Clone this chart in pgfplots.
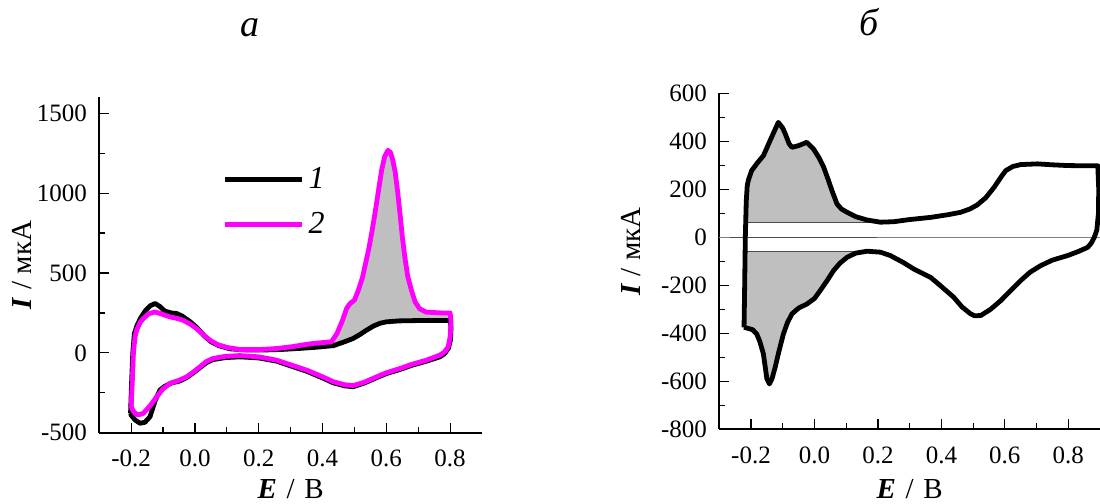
\documentclass[border=0pt]{standalone}
\usepackage{pgfplots}
\pgfplotsset{compat=1.18}
\usepackage{fontspec}
\setmainfont{Liberation Serif}
\definecolor{mag}{RGB}{255,0,255}
\begin{document}
\fontsize{12.5}{15}\selectfont
\begin{tikzpicture}
\pgfplotsset{
  cvstyle/.style={
    scale only axis, axis x line*=bottom, axis y line*=left,
    axis line style={line width=0.9pt,-},
    tick align=inside, major tick length=5pt, minor tick length=3pt,
    every tick/.style={black, line width=0.6pt},
    xmin=-0.3, xmax=0.9, enlargelimits=false,
    xtick={-0.2,0,0.2,0.4,0.6,0.8}, xticklabels={-0.2,0.0,0.2,0.4,0.6,0.8},
    minor x tick num=1, minor y tick num=1,
    tick label style={font=\fontsize{12.5}{15}\selectfont, inner sep=0pt},
    xticklabel style={anchor=north, yshift=-8.6pt},
    yticklabel style={anchor=east, xshift=-6pt},
    label style={font=\fontsize{14.5}{17}\selectfont},
    xlabel={\textbf{\textit{E}}\,\,/\,\,В}, ylabel={\textbf{\textit{I}} / мкА},
    title style={font=\fontsize{19}{22}\selectfont, anchor=base, yshift=0pt},
    clip=false,
  }
}
% ---------------- panel a ----------------
\begin{axis}[cvstyle, at={(49.65pt,35.65pt)}, anchor=south west,
  width=191.35pt, height=167.7pt, ymin=-500, ymax=1600,
  ytick={-500,0,500,1000,1500}, yticklabels={-500,0,500,1000,1500},
  xlabel style={at={(axis description cs:0.5,-0.195)}, anchor=base},
  ylabel style={at={(axis description cs:-0.202,0.5)}, anchor=center},
  title={\textit{а}}, title style={at={(axis description cs:0.394,1.145)}, anchor=base, yshift=0pt},
  legend style={at={(axis description cs:0.322,0.687)}, anchor=west, draw=none, fill=none,
    font=\fontsize{16}{18}\selectfont, row sep=6pt, inner sep=0pt},
  legend cell align=left,
  legend image code/.code={\draw[#1] (0pt,0pt) -- (38.5pt,0pt);},
]
\addplot[fill=gray!50, draw=none, forget plot] coordinates {
(0.428,69)(0.445,120)(0.462,200)(0.476,280)(0.486,308)(0.500,330)(0.512,390)(0.525,470)
(0.535,560)(0.545,650)(0.555,760)(0.565,880)(0.575,1010)(0.585,1140)(0.595,1230)(0.605,1268)
(0.613,1255)(0.620,1210)(0.628,1130)(0.636,1000)(0.643,870)(0.650,730)(0.658,600)(0.667,480)
(0.679,390)(0.690,320)(0.705,275)(0.725,255)(0.770,250)(0.800,250)
(0.800,204)(0.750,204)(0.695,204)(0.640,200)(0.600,194)(0.580,185)(0.560,168)(0.538,142)
(0.520,118)(0.496,90)(0.470,70)(0.434,45)} -- cycle;
\addplot[black, line width=2.4pt, line join=round] coordinates {
(-0.202,-380)(-0.199,-200)(-0.195,0)(-0.190,120)(-0.182,170)(-0.170,220)(-0.155,265)(-0.140,295)
(-0.125,309)(-0.110,290)(-0.095,262)(-0.075,250)(-0.057,246)(-0.040,230)(-0.015,195)(0.005,160)
(0.030,105)(0.050,70)(0.075,45)(0.110,25)(0.160,18)(0.220,18)(0.280,22)(0.330,28)(0.380,35)
(0.434,45)(0.470,70)(0.496,90)(0.520,118)(0.538,142)(0.560,168)(0.580,185)(0.600,194)(0.640,200)
(0.695,202)(0.750,202)(0.800,202)
(0.803,160)(0.801,80)(0.795,30)(0.783,-5)(0.768,-25)(0.726,-52)(0.680,-78)(0.643,-104)(0.600,-130)
(0.570,-155)(0.530,-190)(0.496,-212)(0.470,-207)(0.434,-188)(0.400,-157)(0.350,-115)(0.300,-82)
(0.256,-52)(0.200,-32)(0.141,-25)(0.095,-30)(0.057,-42)(0.037,-60)(0.016,-92)(-0.005,-125)
(-0.026,-155)(-0.050,-178)(-0.073,-188)(-0.095,-210)(-0.110,-233)(-0.125,-300)(-0.141,-400)
(-0.157,-435)(-0.172,-441)(-0.188,-420)(-0.200,-390)(-0.202,-380)};
\addlegendentry{\textit{1}}
\addplot[mag, line width=2.4pt, line join=round] coordinates {
(-0.200,-330)(-0.197,-200)(-0.193,0)(-0.188,100)(-0.183,142)(-0.172,190)(-0.162,215)(-0.145,245)
(-0.125,256)(-0.100,240)(-0.078,225)(-0.055,215)(-0.037,204)(-0.015,180)(0.005,152)(0.025,115)
(0.047,79)(0.070,52)(0.100,34)(0.141,20)(0.200,20)(0.256,27)(0.300,37)(0.340,50)(0.371,59)
(0.400,64)(0.428,69)
(0.445,120)(0.462,200)(0.476,280)(0.486,308)(0.500,330)(0.512,390)(0.525,470)
(0.535,560)(0.545,650)(0.555,760)(0.565,880)(0.575,1010)(0.585,1140)(0.595,1230)(0.605,1268)
(0.613,1255)(0.620,1210)(0.628,1130)(0.636,1000)(0.643,870)(0.650,730)(0.658,600)(0.667,480)
(0.679,390)(0.690,320)(0.705,275)(0.725,255)(0.770,250)(0.800,250)
(0.803,200)(0.800,100)(0.794,37)(0.782,5)(0.768,-14)(0.726,-46)(0.680,-72)(0.643,-98)(0.600,-125)
(0.570,-150)(0.530,-185)(0.496,-205)(0.470,-200)(0.434,-181)(0.400,-150)(0.350,-108)(0.300,-75)
(0.256,-46)(0.200,-25)(0.141,-17)(0.095,-22)(0.057,-35)(0.035,-55)(0.016,-87)(-0.005,-120)
(-0.026,-150)(-0.050,-172)(-0.078,-191)(-0.100,-225)(-0.120,-275)(-0.140,-330)(-0.162,-379)
(-0.178,-389)(-0.190,-375)(-0.198,-348)(-0.200,-330)};
\addlegendentry{\textit{2}}
\end{axis}
% ---------------- panel b ----------------
\begin{axis}[cvstyle, at={(359.65pt,37.35pt)}, anchor=south west,
  width=190.35pt, height=168pt, ymin=-800, ymax=600,
  ytick={-800,-600,-400,-200,0,200,400,600}, yticklabels={-800,-600,-400,-200,0,200,400,600},
  xlabel style={at={(axis description cs:0.5,-0.2045)}, anchor=base},
  ylabel style={at={(axis description cs:-0.232,0.529)}, anchor=center},
  title={\textit{б}}, title style={at={(axis description cs:0.396,1.135)}, anchor=base, yshift=0pt},
]
\addplot[fill=gray!50, draw=none] coordinates {
(-0.211,62)(-0.210,200)(-0.208,240)(-0.198,278)(-0.180,310)(-0.161,340)(-0.140,403)(-0.114,479)
(-0.100,455)(-0.092,431)(-0.080,390)(-0.071,375)(-0.050,382)(-0.024,396)(-0.003,368)(0.015,330)
(0.029,292)(0.042,245)(0.055,195)(0.071,139)(0.085,118)(0.103,104)(0.130,86)(0.166,72)(0.195,62)} -- cycle;
\addplot[fill=gray!50, draw=none] coordinates {
(-0.219,-60)(-0.222,-375)(-0.208,-380)(-0.195,-385)(-0.182,-403)(-0.172,-435)(-0.161,-486)
(-0.150,-590)(-0.142,-611)(-0.134,-590)(-0.124,-542)(-0.112,-475)(-0.098,-403)(-0.085,-355)
(-0.071,-319)(-0.050,-295)(-0.024,-278)(0.000,-255)(0.018,-222)(0.040,-180)(0.060,-139)
(0.080,-108)(0.103,-83)(0.130,-66)(0.140,-60)} -- cycle;
\addplot[gray, line width=0.6pt] coordinates {(-0.3,0)(0.9,0)};
\addplot[black!70, line width=0.6pt] coordinates {(-0.266,0)(0.197,0)};
\addplot[black!70, line width=0.6pt] coordinates {(-0.211,62)(0.195,62)};
\addplot[black!70, line width=0.6pt] coordinates {(-0.219,-60)(0.140,-60)};
\addplot[black, line width=2.4pt, line join=round] coordinates {
(-0.222,-375)(-0.220,-200)(-0.218,0)(-0.215,150)(-0.212,215)(-0.208,240)(-0.198,278)(-0.180,310)
(-0.161,340)(-0.140,403)(-0.114,479)(-0.100,455)(-0.092,431)(-0.080,390)(-0.071,375)(-0.050,382)
(-0.024,396)(-0.003,368)(0.015,330)(0.029,292)(0.042,245)(0.055,195)(0.071,139)(0.085,118)
(0.103,104)(0.130,86)(0.166,72)(0.208,63)(0.250,65)(0.300,74)(0.366,83)(0.420,94)(0.460,104)
(0.490,118)(0.513,135)(0.540,165)(0.566,208)(0.590,255)(0.603,278)(0.625,295)(0.650,303)
(0.703,306)(0.750,302)(0.798,299)(0.850,298)(0.893,298)
(0.896,200)(0.895,100)(0.890,30)(0.882,0)(0.872,-25)(0.861,-42)(0.830,-60)(0.798,-76)(0.750,-95)
(0.713,-118)(0.680,-145)(0.650,-180)(0.620,-220)(0.587,-264)(0.555,-300)(0.524,-326)(0.505,-327)
(0.492,-319)(0.465,-290)(0.439,-250)(0.400,-205)(0.366,-167)(0.340,-150)(0.313,-132)(0.280,-105)
(0.239,-76)(0.208,-62)(0.166,-58)(0.130,-66)(0.103,-83)(0.080,-108)(0.060,-139)(0.040,-180)
(0.018,-222)(0.000,-255)(-0.024,-278)(-0.050,-295)(-0.071,-319)(-0.085,-355)(-0.098,-403)
(-0.112,-475)(-0.124,-542)(-0.134,-590)(-0.142,-611)(-0.150,-590)(-0.161,-486)(-0.172,-435)
(-0.182,-403)(-0.195,-385)(-0.208,-380)(-0.222,-375)};
\end{axis}
\pgfresetboundingbox
\path (0pt,0pt) rectangle (550pt,252pt);
\end{tikzpicture}
\end{document}
